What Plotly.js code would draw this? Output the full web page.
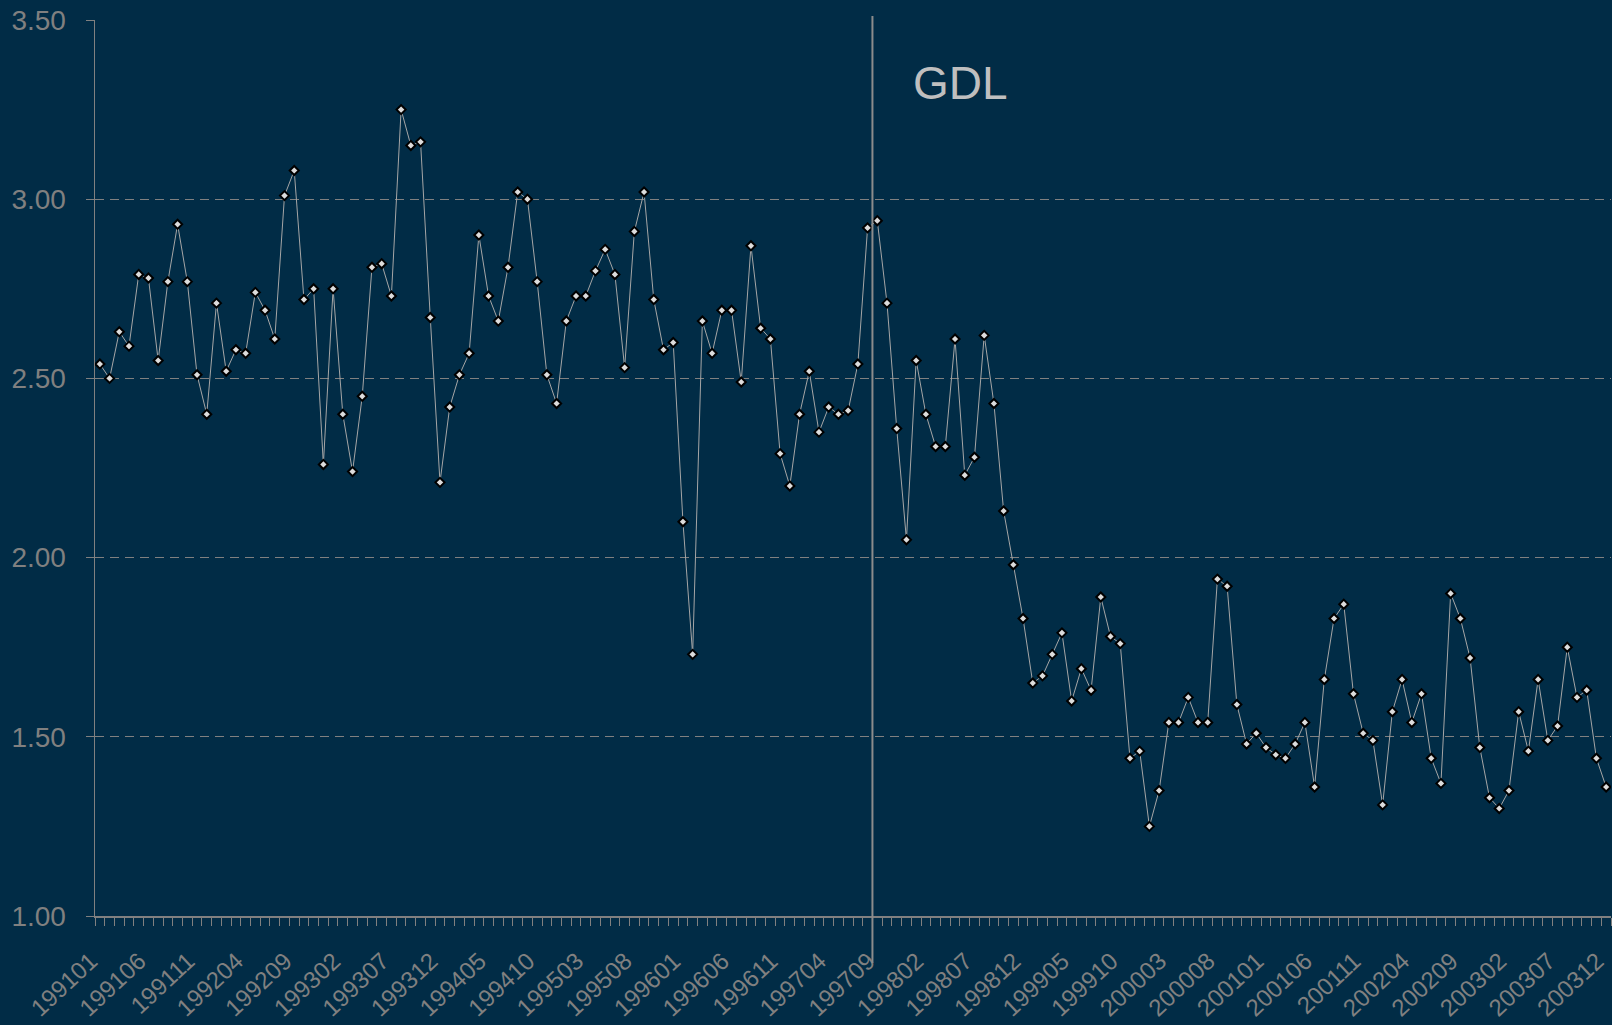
<!DOCTYPE html>
<html>
<head>
<meta charset="utf-8">
<script src="https://cdn.plot.ly/plotly-3.0.1.min.js"></script>
<style>
html,body{margin:0;padding:0;background:#012c46;overflow:hidden;}
#chart{width:1612px;height:1025px;}
</style>
</head>
<body>
<div id="chart"></div>
<script>
// ---- data ----
const years = ['1991','1992','1993','1994','1995','1996','1997','1998','1999','2000','2001','2002','2003'];
const months = ['01','02','03','04','05','06','07','08','09','10','11','12'];

const v1991 = [2.54, 2.50, 2.63, 2.59, 2.79, 2.78, 2.55, 2.77, 2.93, 2.77, 2.51, 2.40];
const v1992 = [2.71, 2.52, 2.58, 2.57, 2.74, 2.69, 2.61, 3.01, 3.08, 2.72, 2.75, 2.26];
const v1993 = [2.75, 2.40, 2.24, 2.45, 2.81, 2.82, 2.73, 3.25, 3.15, 3.16, 2.67, 2.21];
const v1994 = [2.42, 2.51, 2.57, 2.90, 2.73, 2.66, 2.81, 3.02, 3.00, 2.77, 2.51, 2.43];
const v1995 = [2.66, 2.73, 2.73, 2.80, 2.86, 2.79, 2.53, 2.91, 3.02, 2.72, 2.58, 2.60];
const v1996 = [2.10, 1.73, 2.66, 2.57, 2.69, 2.69, 2.49, 2.87, 2.64, 2.61, 2.29, 2.20];
const v1997 = [2.40, 2.52, 2.35, 2.42, 2.40, 2.41, 2.54, 2.92, 2.94, 2.71, 2.36, 2.05];
const v1998 = [2.55, 2.40, 2.31, 2.31, 2.61, 2.23, 2.28, 2.62, 2.43, 2.13, 1.98, 1.83];
const v1999 = [1.65, 1.67, 1.73, 1.79, 1.60, 1.69, 1.63, 1.89, 1.78, 1.76, 1.44, 1.46];
const v2000 = [1.25, 1.35, 1.54, 1.54, 1.61, 1.54, 1.54, 1.94, 1.92, 1.59, 1.48, 1.51];
const v2001 = [1.47, 1.45, 1.44, 1.48, 1.54, 1.36, 1.66, 1.83, 1.87, 1.62, 1.51, 1.49];
const v2002 = [1.31, 1.57, 1.66, 1.54, 1.62, 1.44, 1.37, 1.90, 1.83, 1.72, 1.47, 1.33];
const v2003 = [1.30, 1.35, 1.57, 1.46, 1.66, 1.49, 1.53, 1.75, 1.61, 1.63, 1.44, 1.36];

const tickLabels = ['199101','199106','199111','199204','199209','199302','199307','199312',
  '199405','199410','199503','199508','199601','199606','199611','199704','199709','199802',
  '199807','199812','199905','199910','200003','200008','200101','200106','200111','200204',
  '200209','200302','200307','200312'];

const yTicks = [1.00, 1.50, 2.00, 2.50, 3.00, 3.50];
const splitCategory = '199709';
const annotationText = 'GDL';

// ---- build ----
const categories = [];
years.forEach(y => months.forEach(m => categories.push(y + m)));
const values = [].concat(v1991, v1992, v1993, v1994, v1995, v1996, v1997,
                         v1998, v1999, v2000, v2001, v2002, v2003);
const tickText = categories.map(c => tickLabels.includes(c) ? c : '');
const splitIdx = categories.indexOf(splitCategory);

const BG = '#012c46';
const AX = '#808080';
const FONT = 'Liberation Sans, Arial, sans-serif';

const trace = {
  type: 'scatter',
  mode: 'lines+markers',
  x: categories,
  y: values,
  line: {color: '#a6a6a6', width: 1},
  marker: {symbol: 'diamond', size: 7, color: '#dcdcdc', line: {color: '#000000', width: 2}},
  hoverinfo: 'x+y'
};

const layout = {
  width: 1612,
  height: 1025,
  paper_bgcolor: BG,
  plot_bgcolor: BG,
  margin: {l: 95, r: 1, t: 20, b: 109},
  showlegend: false,
  xaxis: {
    type: 'category',
    range: [-0.5, categories.length - 0.5],
    tickmode: 'array',
    tickvals: categories,
    ticktext: tickText,
    tickson: 'boundaries',
    ticks: 'outside',
    ticklen: 8,
    tickwidth: 1,
    tickcolor: AX,
    showline: true,
    linecolor: AX,
    linewidth: 1.5,
    showgrid: false,
    zeroline: false,
    tickangle: -43,
    ticklabelstandoff: 20,
    ticklabelshift: -9,
    tickfont: {family: FONT, size: 24, color: AX}
  },
  yaxis: {
    range: [1, 3.5],
    tickmode: 'array',
    tickvals: yTicks,
    ticktext: yTicks.map(v => v.toFixed(2)),
    showgrid: true,
    gridcolor: AX,
    gridwidth: 1,
    griddash: '9px,6px',
    ticks: 'outside',
    ticklen: 8,
    tickwidth: 1,
    tickcolor: AX,
    showline: true,
    linecolor: AX,
    linewidth: 1.5,
    zeroline: false,
    ticklabelstandoff: 14,
    tickfont: {family: FONT, size: 28, color: AX}
  },
  shapes: [{
    type: 'line',
    xref: 'x', yref: 'paper',
    x0: splitIdx - 0.5, x1: splitIdx - 0.5,
    y0: -0.0525, y1: 1.0045,
    line: {color: '#8c8c8c', width: 2}
  }],
  annotations: [{
    text: annotationText,
    xref: 'x', yref: 'y',
    x: splitIdx + 3.5, y: 3.325,
    xanchor: 'left', yanchor: 'middle',
    showarrow: false,
    font: {family: FONT, size: 46, color: '#bfbfbf'}
  }]
};

Plotly.newPlot('chart', [trace], layout, {displayModeBar: false, staticPlot: true});
</script>
</body>
</html>
